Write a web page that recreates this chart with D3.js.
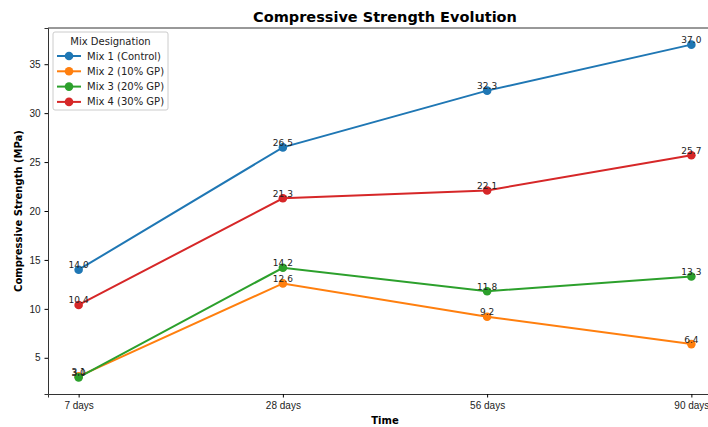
<!DOCTYPE html>
<html>
<head>
<meta charset="utf-8">
<script src="https://cdn.jsdelivr.net/npm/d3@7"></script>
<style>
  body { margin: 0; background: #fff; }
  svg { display: block; font-family: "DejaVu Sans", sans-serif; }
</style>
</head>
<body>
<div id="chart"></div>
<script>
// data
var timeLabels = ["7 days", "28 days", "56 days", "90 days"]
var mixNames = ["Mix 1 (Control)", "Mix 2 (10% GP)", "Mix 3 (20% GP)", "Mix 4 (30% GP)"]
var mix1 = [14.0, 26.5, 32.3, 37.0]
var mix2 = [3.1, 12.6, 9.2, 6.4]
var mix3 = [3.0, 14.2, 11.8, 13.3]
var mix4 = [10.4, 21.3, 22.1, 25.7]
var yTicks = [5, 10, 15, 20, 25, 30, 35]
var colors = ["#1f77b4", "#ff7f0e", "#2ca02c", "#d62728"]

var series = [mix1, mix2, mix3, mix4].map((vals, i) => ({name: mixNames[i], values: vals, color: colors[i]}))

var W = 708, H = 427
// axes box (right side runs off the picture, like the reference)
var axL = 48, axR = 722, axT = 28, axB = 394

var svg = d3.select("#chart").append("svg")
    .attr("width", W)
    .attr("height", H)

var x = d3.scaleLinear()
    .domain([-0.15, 3.15])
    .range([axL, axR])

var y = d3.scaleLinear()
    .domain([1.3, 38.7])
    .range([axB, axT])

// title
svg.append("text")
    .attr("x", (axL + axR) / 2)
    .attr("y", 22)
    .attr("text-anchor", "middle")
    .style("font-size", "14.5px")
    .style("font-weight", "bold")
    .text("Compressive Strength Evolution")

// x axis
var xAxis = svg.append("g")
    .attr("transform", "translate(0," + axB + ")")
    .call(d3.axisBottom(x).tickValues([0, 1, 2, 3]).tickFormat(i => timeLabels[i]).tickSizeOuter(0).tickSize(3.5).tickPadding(4))
xAxis.select(".domain").attr("stroke", "#333")
xAxis.selectAll("text").style("font-size", "10px").attr("fill", "#222")

// y axis
var yAxis = svg.append("g")
    .attr("transform", "translate(" + axL + ",0)")
    .call(d3.axisLeft(y).tickValues(yTicks).tickSizeOuter(0).tickSize(3.5).tickPadding(4))
yAxis.select(".domain").attr("stroke", "#333")
yAxis.selectAll("text").style("font-size", "10px").attr("fill", "#222")

// top spine
svg.append("line")
    .attr("x1", axL).attr("x2", axR)
    .attr("y1", axT).attr("y2", axT)
    .attr("stroke", "#333")

// axis labels
svg.append("text")
    .attr("x", (axL + axR) / 2)
    .attr("y", 424)
    .attr("text-anchor", "middle")
    .style("font-size", "10px")
    .style("font-weight", "bold")
    .text("Time")

svg.append("text")
    .attr("transform", "translate(22," + ((axT + axB) / 2) + ")rotate(-90)")
    .attr("text-anchor", "middle")
    .style("font-size", "10px")
    .style("font-weight", "bold")
    .text("Compressive Strength (MPa)")

// lines + markers
var line = d3.line()
    .x((d, i) => x(i))
    .y(d => y(d))

series.forEach(s => {
    svg.append("path")
        .datum(s.values)
        .attr("d", line)
        .attr("fill", "none")
        .attr("stroke", s.color)
        .attr("stroke-width", 2)

    svg.selectAll(null)
        .data(s.values)
        .enter()
        .append("circle")
        .attr("cx", (d, i) => x(i))
        .attr("cy", d => y(d))
        .attr("r", 4.3)
        .attr("fill", s.color)
})

// value labels
series.forEach(s => {
    svg.selectAll(null)
        .data(s.values)
        .enter()
        .append("text")
        .attr("x", (d, i) => x(i))
        .attr("y", d => y(d) - 1.5)
        .attr("text-anchor", "middle")
        .style("font-size", "9px")
        .attr("fill", "#222")
        .text(d => d.toFixed(1))
})

// legend
var lg = svg.append("g").attr("transform", "translate(53,32)")
lg.append("rect")
    .attr("width", 115).attr("height", 78)
    .attr("rx", 2)
    .attr("fill", "#fff").attr("fill-opacity", 0.8)
    .attr("stroke", "#ccc")
lg.append("text")
    .attr("x", 57.5).attr("y", 13)
    .attr("text-anchor", "middle")
    .style("font-size", "10px")
    .attr("fill", "#222")
    .text("Mix Designation")
series.forEach((s, i) => {
    var yy = 24 + i * 15.3
    lg.append("line")
        .attr("x1", 4).attr("x2", 28)
        .attr("y1", yy).attr("y2", yy)
        .attr("stroke", s.color).attr("stroke-width", 2)
    lg.append("circle")
        .attr("cx", 16).attr("cy", yy).attr("r", 4.3)
        .attr("fill", s.color)
    lg.append("text")
        .attr("x", 34).attr("y", yy + 3.5)
        .style("font-size", "10px")
        .attr("fill", "#222")
        .text(s.name)
})
</script>
</body>
</html>
